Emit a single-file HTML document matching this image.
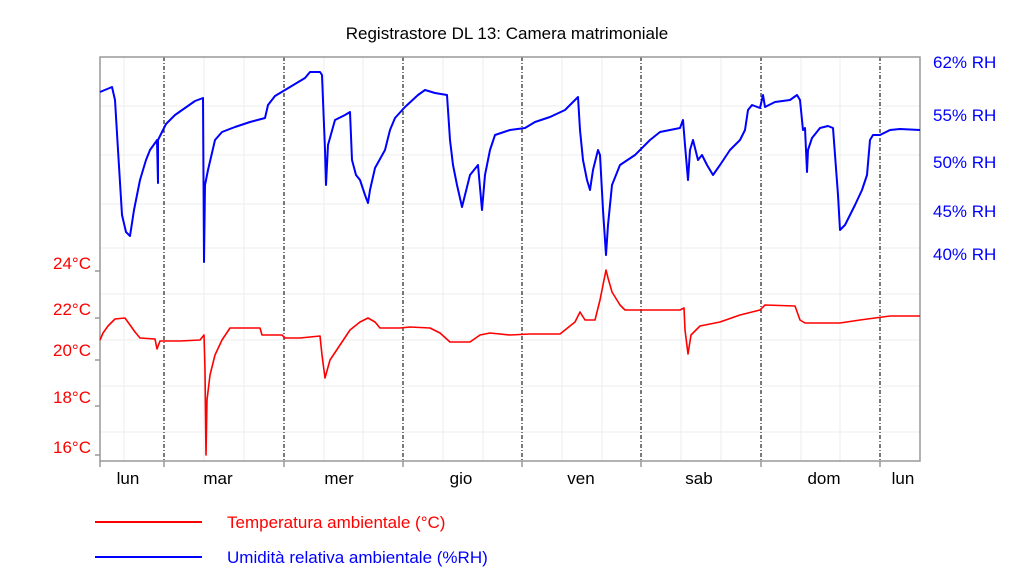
<!DOCTYPE html>
<html><head><meta charset="utf-8"><style>
body{margin:0;background:#fff;}
svg text{font-family:"Liberation Sans",sans-serif;}
</style></head><body>
<svg width="1024" height="576" xmlns="http://www.w3.org/2000/svg">
<rect width="1024" height="576" fill="#fff"/>
<text x="507" y="39" font-size="17" text-anchor="middle" fill="#000">Registrastore DL 13: Camera matrimoniale</text>
<g stroke="#eee" stroke-width="1">
<line x1="100" y1="106" x2="920" y2="106"/><line x1="100" y1="155" x2="920" y2="155"/><line x1="100" y1="204" x2="920" y2="204"/><line x1="100" y1="248" x2="920" y2="248"/><line x1="100" y1="294" x2="920" y2="294"/><line x1="100" y1="340" x2="920" y2="340"/><line x1="100" y1="386" x2="920" y2="386"/><line x1="100" y1="432" x2="920" y2="432"/>
<line x1="124" y1="57" x2="124" y2="461"/><line x1="204" y1="57" x2="204" y2="461"/><line x1="244" y1="57" x2="244" y2="461"/><line x1="324" y1="57" x2="324" y2="461"/><line x1="363" y1="57" x2="363" y2="461"/><line x1="443" y1="57" x2="443" y2="461"/><line x1="483" y1="57" x2="483" y2="461"/><line x1="562" y1="57" x2="562" y2="461"/><line x1="602" y1="57" x2="602" y2="461"/><line x1="681" y1="57" x2="681" y2="461"/><line x1="721" y1="57" x2="721" y2="461"/><line x1="801" y1="57" x2="801" y2="461"/><line x1="840" y1="57" x2="840" y2="461"/>
</g>
<g stroke="#222" stroke-width="1.2" stroke-dasharray="4,2,1,2">
<line x1="164" y1="57" x2="164" y2="461"/><line x1="284" y1="57" x2="284" y2="461"/><line x1="403" y1="57" x2="403" y2="461"/><line x1="522" y1="57" x2="522" y2="461"/><line x1="641" y1="57" x2="641" y2="461"/><line x1="761" y1="57" x2="761" y2="461"/><line x1="880" y1="57" x2="880" y2="461"/>
</g>
<rect x="100" y="57" width="820" height="404" fill="none" stroke="#999" stroke-width="1.5"/>
<g stroke="#999" stroke-width="1.5">
<line x1="100" y1="461" x2="100" y2="467"/><line x1="164" y1="461" x2="164" y2="467"/><line x1="284" y1="461" x2="284" y2="467"/><line x1="403" y1="461" x2="403" y2="467"/><line x1="522" y1="461" x2="522" y2="467"/><line x1="641" y1="461" x2="641" y2="467"/><line x1="761" y1="461" x2="761" y2="467"/><line x1="880" y1="461" x2="880" y2="467"/>
<line x1="95" y1="271" x2="100" y2="271"/><line x1="95" y1="318" x2="100" y2="318"/><line x1="95" y1="360" x2="100" y2="360"/><line x1="95" y1="406" x2="100" y2="406"/><line x1="95" y1="455" x2="100" y2="455"/>
</g>
<g font-size="17" fill="#000" text-anchor="middle">
<text x="128" y="484">lun</text><text x="218" y="484">mar</text><text x="339" y="484">mer</text><text x="461" y="484">gio</text><text x="581" y="484">ven</text><text x="699" y="484">sab</text><text x="824" y="484">dom</text><text x="903" y="484">lun</text>
</g>
<g font-size="17" fill="#f00" text-anchor="end">
<text x="91" y="269">24°C</text><text x="91" y="315">22°C</text><text x="91" y="356">20°C</text><text x="91" y="403">18°C</text><text x="91" y="453">16°C</text>
</g>
<g font-size="17" fill="#0000ff">
<text x="933" y="68">62% RH</text><text x="933" y="121">55% RH</text><text x="933" y="168">50% RH</text><text x="933" y="217">45% RH</text><text x="933" y="260">40% RH</text>
</g>
<polyline fill="none" stroke="#0000ff" stroke-width="2" stroke-linejoin="round" points="100,92 112,87 115,100 118,150 122,215 126,232 130,236 134,210 140,180 146,160 150,150 155,143 157,140 158,183 158,140 162,132 166,124 175,115 185,108 195,101 203,98 204,262 205,185 208,170 215,140 222,132 235,127 250,122 265,118 268,105 275,96 290,87 305,78 310,72 320,72 322,75 325,150 326,185 328,145 335,120 345,115 350,112 352,160 356,175 360,180 365,195 368,203 370,190 375,168 385,150 390,130 395,118 405,107 418,95 425,90 435,93 447,95 450,140 453,165 457,185 462,207 465,195 470,175 478,165 482,210 485,175 490,150 495,135 510,130 525,128 535,122 550,117 565,110 575,100 578,97 580,130 583,160 587,180 590,190 593,170 598,150 600,155 603,210 606,255 608,225 612,185 620,165 635,155 650,140 660,132 680,128 683,120 685,145 688,180 690,150 693,140 698,160 702,155 707,165 713,175 720,165 730,150 740,140 745,130 748,110 752,105 760,108 763,95 765,107 775,102 790,100 797,95 800,100 803,130 805,128 807,172 808,150 812,138 820,128 828,126 833,128 838,195 840,230 845,225 855,205 862,190 867,175 870,140 873,135 880,135 890,130 900,129 920,130"/>
<polyline fill="none" stroke="#f00" stroke-width="1.6" stroke-linejoin="round" points="100,340 103,333 108,326 115,319 125,318 130,325 135,332 140,338 155,339 157,349 160,341 165,341 180,341 200,340 204,335 205,370 206,455 207,400 210,375 215,355 222,340 230,328 260,328 262,335 282,335 285,338 300,338 320,336 322,355 325,378 330,360 340,345 350,330 360,322 368,318 375,322 380,328 400,328 410,327 430,328 440,333 450,342 470,342 480,335 490,333 510,335 530,334 560,334 575,322 580,312 585,320 595,320 600,300 603,285 606,270 608,278 612,292 620,305 625,310 650,310 680,310 684,308 685,330 688,354 691,335 700,326 720,322 740,315 760,310 765,305 795,306 800,320 805,323 840,323 860,320 890,316 920,316"/>
<line x1="95" y1="522" x2="202" y2="522" stroke="#f00" stroke-width="2"/>
<text x="227" y="528" font-size="17" fill="#f00">Temperatura ambientale (°C)</text>
<line x1="95" y1="557" x2="202" y2="557" stroke="#0000ff" stroke-width="2"/>
<text x="227" y="563" font-size="17" fill="#0000ff">Umidità relativa ambientale (%RH)</text>
</svg>
</body></html>
